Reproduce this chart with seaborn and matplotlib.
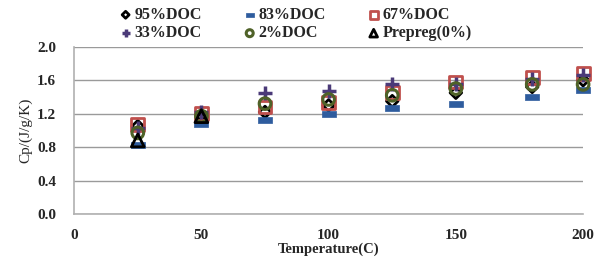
import numpy as np
import pandas as pd
import seaborn as sns
import matplotlib.pyplot as plt

# temperatures (C)
temps = [25, 50, 75, 100, 125, 150, 180, 200]
prepreg_temps = [25, 50]

doc95 = [1.05, 1.18, 1.22, 1.30, 1.35, 1.45, 1.52, 1.60]
doc83 = [0.82, 1.08, 1.12, 1.20, 1.27, 1.31, 1.40, 1.48]
doc67 = [1.07, 1.20, 1.28, 1.33, 1.45, 1.58, 1.63, 1.68]
doc33 = [1.03, 1.22, 1.45, 1.47, 1.55, 1.55, 1.62, 1.66]
doc2 = [0.97, 1.17, 1.32, 1.37, 1.42, 1.50, 1.55, 1.55]
prepreg = [0.88, 1.17]

series_names = ["95%DOC", "83%DOC", "67%DOC", "33%DOC", "2%DOC", "Prepreg(0%)"]
x_ticks = [0, 50, 100, 150, 200]
y_ticks = [0.0, 0.4, 0.8, 1.2, 1.6, 2.0]

sns.set_style("white")
plt.rcParams["font.family"] = ["Liberation Serif", "DejaVu Serif"]

fig, ax = plt.subplots(figsize=(6.03, 2.6), dpi=100)
fig.subplots_adjust(left=0.123, right=0.967, top=0.82, bottom=0.177)

dash = [(-1, -0.4), (1, -0.4), (1, 0.4), (-1, 0.4), (-1, -0.4)]

styles = {
    "95%DOC": dict(marker="D", facecolors="none", edgecolors="black", s=35, linewidth=2.0),
    "83%DOC": dict(marker=dash, facecolors="#2E5C9E", edgecolors="#2E5C9E", s=100, linewidth=0.5),
    "67%DOC": dict(marker="s", facecolors="none", edgecolors="#C0504D", s=85, linewidth=2.0),
    "33%DOC": dict(marker="+", color="#4B3A78", s=90, linewidth=2.5),
    "2%DOC": dict(marker="o", facecolors="none", edgecolors="#4F6228", s=70, linewidth=2.2),
    "Prepreg(0%)": dict(marker="^", facecolors="none", edgecolors="black", s=85, linewidth=2.0),
}

values = {
    "95%DOC": (temps, doc95),
    "83%DOC": (temps, doc83),
    "67%DOC": (temps, doc67),
    "33%DOC": (temps, doc33),
    "2%DOC": (temps, doc2),
    "Prepreg(0%)": (prepreg_temps, prepreg),
}

for name in series_names:
    xs, ys = values[name]
    df = pd.DataFrame({"T": xs, "Cp": ys})
    sns.scatterplot(data=df, x="T", y="Cp", ax=ax, label=name, zorder=3,
                    clip_on=False, **styles[name])

ax.set_xlim(0, 200)
ax.set_ylim(0, 2.0)
ax.set_xticks(x_ticks)
ax.set_yticks(y_ticks)
ax.set_yticklabels([f"{v:.1f}" for v in y_ticks])
ax.tick_params(axis="x", length=0, labelsize=11, pad=11)
ax.tick_params(axis="y", length=0, labelsize=11, pad=13)
for lbl in ax.get_xticklabels() + ax.get_yticklabels():
    lbl.set_fontweight("bold")

ax.yaxis.grid(True, color="#9a9a9a", linewidth=1.0)
ax.set_axisbelow(True)
for side in ["top", "right"]:
    ax.spines[side].set_visible(False)
for side in ["left", "bottom"]:
    ax.spines[side].set_color("#b0b0b0")
    ax.spines[side].set_linewidth(1.2)

ax.set_xlabel("Temperature(C)", fontsize=10.5, fontweight="bold", labelpad=0)
ax.set_ylabel("Cp/(J/g/K)", fontsize=11, labelpad=3)

# legend: 3 columns, filled column-wise, so reorder to read row-wise
handles, labels = ax.get_legend_handles_labels()
order = [0, 3, 1, 4, 2, 5]
ax.get_legend().remove()
fig.legend(
    [handles[i] for i in order],
    [labels[i] for i in order],
    loc="upper center",
    bbox_to_anchor=(0.49, 1.01),
    ncol=3,
    frameon=False,
    prop={"family": "Liberation Serif", "weight": "bold", "size": 11.5},
    markerscale=0.6,
    handletextpad=0.15,
    columnspacing=2.6,
    labelspacing=0.15,
    handlelength=0.8,
    borderaxespad=0.2,
)

plt.savefig("out.png", dpi=100)
plt.close()
